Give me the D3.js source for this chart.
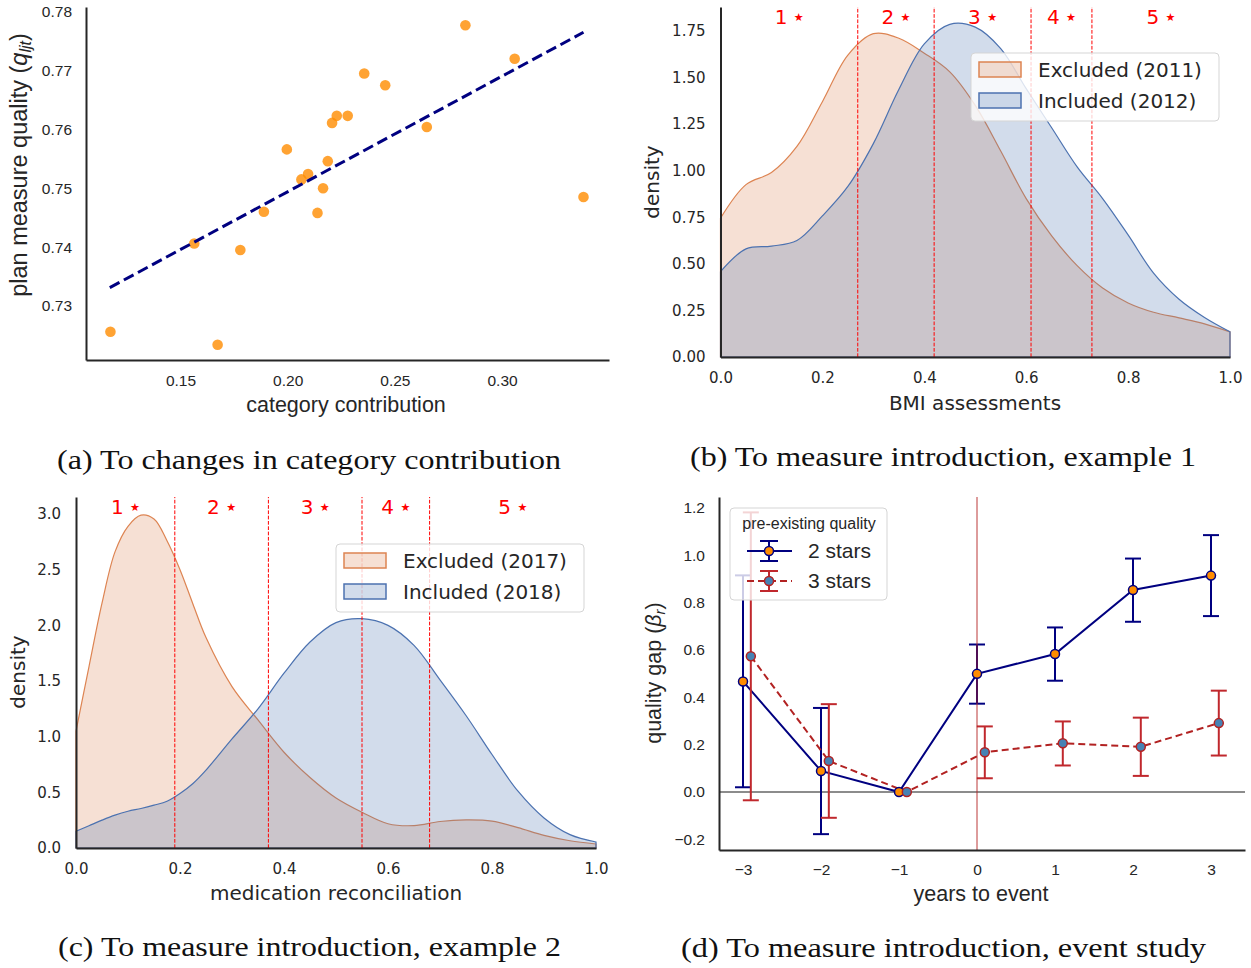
<!DOCTYPE html>
<html>
<head>
<meta charset="UTF-8">
<style>
body,html{
    margin:0;
    padding:0;
    overflow:hidden;
    background-color:#ffffff;
}
svg{display:block;}
</style>
</head>
<body>
<svg id="fig" width="1251" height="968"></svg>
<script src="https://d3js.org/d3.v7.min.js"></script>
<script>
// ---------- (a) category contribution scatter ----------
let contribX = [0.1173, 0.1673, 0.1564, 0.1779, 0.1889, 0.1996, 0.2064, 0.2095, 0.2139, 0.2165,
                0.2187, 0.2207, 0.2229, 0.2280, 0.2357, 0.2455, 0.2649, 0.2829, 0.3059, 0.3380];
let qualityY = [0.7256, 0.7234, 0.7406, 0.7395, 0.7460, 0.7566, 0.7515, 0.7524, 0.7458, 0.7500,
                0.7546, 0.7611, 0.7623, 0.7623, 0.7695, 0.7675, 0.7604, 0.7777, 0.7720, 0.7485];
let fitX = [0.117, 0.338];
let fitY = [0.7331, 0.7765];
let aXTicks = [0.15, 0.20, 0.25, 0.30];
let aYTicks = [0.73, 0.74, 0.75, 0.76, 0.77, 0.78];

// ---------- (b) BMI assessments ----------
let bmiGrid     = [0, 0.05, 0.10, 0.15, 0.20, 0.25, 0.30, 0.35, 0.40, 0.45, 0.50,
                   0.55, 0.60, 0.65, 0.70, 0.75, 0.80, 0.85, 0.90, 0.95, 1.0];
let bmiExcluded = [0.745, 0.925, 0.99, 1.13, 1.37, 1.62, 1.735, 1.71, 1.63, 1.53, 1.35,
                   1.105, 0.85, 0.65, 0.49, 0.37, 0.29, 0.24, 0.21, 0.178, 0.135];
let bmiIncluded = [0.458, 0.58, 0.595, 0.625, 0.757, 0.915, 1.145, 1.435, 1.68, 1.785, 1.77,
                   1.655, 1.44, 1.23, 1.02, 0.85, 0.655, 0.45, 0.31, 0.212, 0.135];
let bmiCuts = [0.2694, 0.4193, 0.6095, 0.729];
let bmiYTicks = [0, 0.25, 0.5, 0.75, 1.0, 1.25, 1.5, 1.75];

// ---------- (c) medication reconciliation ----------
let medGrid     = [0, 0.025, 0.05, 0.075, 0.1, 0.125, 0.15, 0.175, 0.2, 0.225, 0.25, 0.3, 0.35,
                   0.4, 0.45, 0.5, 0.55, 0.6, 0.65, 0.7, 0.75, 0.8, 0.85, 0.9, 0.95, 1.0];
let medExcluded = [1.05, 1.63, 2.2, 2.66, 2.89, 2.99, 2.955, 2.76, 2.5, 2.19, 1.89, 1.45, 1.15,
                   0.86, 0.633, 0.449, 0.321, 0.218, 0.201, 0.238, 0.252, 0.242, 0.183, 0.113, 0.065, 0.036];
let medIncluded = [0.15, 0.2, 0.25, 0.295, 0.33, 0.355, 0.385, 0.42, 0.49, 0.58, 0.7, 0.98, 1.25,
                   1.57, 1.85, 2.025, 2.06, 2.0, 1.82, 1.51, 1.19, 0.84, 0.51, 0.27, 0.12, 0.054];
let medCuts = [0.19, 0.37, 0.55, 0.68];
let medYTicks = [0, 0.5, 1.0, 1.5, 2.0, 2.5, 3.0];

let binLabels = ["1", "2", "3", "4", "5"];
let densXTicks = [0, 0.2, 0.4, 0.6, 0.8, 1.0];

// ---------- (d) event study ----------
let years = [-3, -2, -1, 0, 1, 2, 3];
let twoStarMean = [0.467, 0.089, 0.0, 0.499, 0.583, 0.853, 0.914];
let twoStarLow  = [0.020, -0.178, 0.0, 0.373, 0.470, 0.719, 0.743];
let twoStarHigh = [0.915, 0.355, 0.0, 0.623, 0.695, 0.986, 1.085];
let threeStarMean = [0.573, 0.131, 0.0, 0.168, 0.206, 0.191, 0.291];
let threeStarLow  = [-0.035, -0.109, 0.0, 0.058, 0.112, 0.068, 0.154];
let threeStarHigh = [1.181, 0.371, 0.0, 0.277, 0.298, 0.314, 0.428];
let dYTicks = [-0.2, 0, 0.2, 0.4, 0.6, 0.8, 1.0, 1.2];

let captions = [
    {text: "(a) To changes in category contribution", x: 57, y: 469, w: 504},
    {text: "(b) To measure introduction, example 1", x: 690, y: 466, w: 506},
    {text: "(c) To measure introduction, example 2", x: 58, y: 956, w: 503},
    {text: "(d) To measure introduction, event study", x: 681, y: 957, w: 525}
];

let svg = d3.select("#fig");
let sansA = "'Liberation Sans', Arial, sans-serif";
let dejavu = "'DejaVu Sans', sans-serif";
let orange = "#dd8452", blue = "#4c72b0";

function styleAxis(g, font, size) {
    g.select(".domain").attr("stroke", "#262626").attr("stroke-width", 2);
    g.selectAll(".tick line").remove();
    g.selectAll(".tick text")
        .attr("font-family", font)
        .attr("font-size", size)
        .attr("fill", "#262626");
}

// ================= panel (a) =================
{
    let x = d3.scaleLinear().domain([0.1059, 0.3499]).range([86, 609]);
    let y = d3.scaleLinear().domain([0.7208, 0.7808]).range([360, 7]);
    let g = svg.append("g");

    g.selectAll("circle")
        .data(contribX)
        .enter()
        .append("circle")
        .attr("cx", d => x(d))
        .attr("cy", (d, i) => y(qualityY[i]))
        .attr("r", 5.3)
        .attr("fill", "#ff8c00")
        .attr("fill-opacity", 0.8);

    g.append("line")
        .attr("x1", x(fitX[0])).attr("y1", y(fitY[0]))
        .attr("x2", x(fitX[1])).attr("y2", y(fitY[1]))
        .attr("stroke", "#000080")
        .attr("stroke-width", 3)
        .attr("stroke-dasharray", "11,5");

    let ax = g.append("g").attr("transform", "translate(0,360)")
        .call(d3.axisBottom(x).tickValues(aXTicks).tickFormat(d3.format(".2f")).tickSize(0).tickPadding(15).tickSizeOuter(0));
    styleAxis(ax, sansA, 15.5);
    let ay = g.append("g").attr("transform", "translate(86,0)")
        .call(d3.axisLeft(y).tickValues(aYTicks).tickFormat(d3.format(".2f")).tickSize(0).tickPadding(14).tickSizeOuter(0));
    styleAxis(ay, sansA, 15.5);

    g.append("text")
        .attr("x", 346).attr("y", 412)
        .attr("text-anchor", "middle")
        .attr("font-family", sansA).attr("font-size", 21.5).attr("fill", "#262626")
        .text("category contribution");

    let yl = g.append("text")
        .attr("transform", "translate(27,165) rotate(-90)")
        .attr("text-anchor", "middle")
        .attr("font-family", sansA).attr("font-size", 23.5).attr("fill", "#262626");
    yl.append("tspan").text("plan measure quality (");
    yl.append("tspan").attr("font-style", "italic").text("q");
    yl.append("tspan").attr("font-style", "italic").attr("font-size", 16).attr("dy", 4).text("ljt");
    yl.append("tspan").attr("dy", -4).text(")");
}

// ================= panels (b) and (c) =================
function densityPanel(opts) {
    let x = d3.scaleLinear().domain([0, 1]).range(opts.xRange);
    let y = d3.scaleLinear().domain([0, opts.yMax]).range(opts.yRange);
    let g = svg.append("g");

    let area = d3.area()
        .x(d => x(d[0]))
        .y0(y(0))
        .y1(d => y(d[1]))
        .curve(d3.curveCatmullRom.alpha(0.5));

    [[opts.excluded, orange], [opts.included, blue]].forEach(s => {
        let pts = opts.grid.map((v, i) => [v, s[0][i]]);
        g.append("path")
            .attr("d", area(pts))
            .attr("fill", s[1])
            .attr("fill-opacity", 0.25)
            .attr("stroke", s[1])
            .attr("stroke-width", 1.2);
    });

    // bin boundaries
    g.selectAll(".cut")
        .data(opts.cuts)
        .enter()
        .append("line")
        .attr("x1", d => x(d)).attr("x2", d => x(d))
        .attr("y1", opts.yRange[0]).attr("y2", opts.yRange[1])
        .attr("stroke", "#ff0000")
        .attr("stroke-width", 1)
        .attr("stroke-dasharray", "3.7,1.6");

    let edges = [0].concat(opts.cuts).concat([1]);
    binLabels.forEach((lab, i) => {
        let t = g.append("text")
            .attr("x", x((edges[i] + edges[i + 1]) / 2))
            .attr("y", opts.yRange[1] + 17)
            .attr("text-anchor", "middle")
            .attr("font-family", dejavu)
            .attr("fill", "#ff0000");
        t.append("tspan").attr("font-size", 20).text(lab + " ");
        t.append("tspan").attr("font-size", 11).attr("dy", -3).text("\u2605");
    });

    let ax = g.append("g").attr("transform", "translate(0," + opts.yRange[0] + ")")
        .call(d3.axisBottom(x).tickValues(densXTicks).tickFormat(d3.format(".1f")).tickSize(0).tickPadding(15).tickSizeOuter(0));
    styleAxis(ax, dejavu, 15);
    let ay = g.append("g").attr("transform", "translate(" + opts.xRange[0] + ",0)")
        .call(d3.axisLeft(y).tickValues(opts.yTicks).tickFormat(d3.format(opts.yFmt)).tickSize(0).tickPadding(15).tickSizeOuter(0));
    styleAxis(ay, dejavu, 15);

    g.append("text")
        .attr("x", opts.xLabelPos[0]).attr("y", opts.xLabelPos[1])
        .attr("text-anchor", "middle")
        .attr("font-family", dejavu).attr("font-size", 20).attr("fill", "#262626")
        .text(opts.xLabel);
    g.append("text")
        .attr("transform", "translate(" + opts.yLabelPos[0] + "," + opts.yLabelPos[1] + ") rotate(-90)")
        .attr("text-anchor", "middle")
        .attr("font-family", dejavu).attr("font-size", 20).attr("fill", "#262626")
        .text("density");

    // legend
    let lg = g.append("g").attr("transform", "translate(" + opts.legendPos[0] + "," + opts.legendPos[1] + ")");
    lg.append("rect")
        .attr("width", 248).attr("height", 68).attr("rx", 4)
        .attr("fill", "#ffffff").attr("fill-opacity", 0.8)
        .attr("stroke", "#d5d5d5").attr("stroke-width", 1);
    [[opts.legendText[0], orange], [opts.legendText[1], blue]].forEach((d, i) => {
        lg.append("rect")
            .attr("x", 8).attr("y", 9 + i * 31)
            .attr("width", 42).attr("height", 15)
            .attr("fill", d[1]).attr("fill-opacity", 0.25)
            .attr("stroke", d[1]).attr("stroke-width", 1.5);
        lg.append("text")
            .attr("x", 67).attr("y", 17 + i * 31)
            .attr("dy", "0.35em")
            .attr("font-family", dejavu).attr("font-size", 20).attr("fill", "#262626")
            .text(d[0]);
    });
}

densityPanel({
    xRange: [720.5, 1230], yRange: [357, 7], yMax: 1.878,
    grid: bmiGrid, excluded: bmiExcluded, included: bmiIncluded, cuts: bmiCuts,
    yTicks: bmiYTicks, yFmt: ".2f",
    xLabel: "BMI assessments", xLabelPos: [975, 410], yLabelPos: [659, 182],
    legendPos: [971, 53], legendText: ["Excluded (2011)", "Included (2012)"]
});

densityPanel({
    xRange: [76, 596], yRange: [848, 497], yMax: 3.153,
    grid: medGrid, excluded: medExcluded, included: medIncluded, cuts: medCuts,
    yTicks: medYTicks, yFmt: ".1f",
    xLabel: "medication reconciliation", xLabelPos: [336, 900], yLabelPos: [25, 672],
    legendPos: [336, 544], legendText: ["Excluded (2017)", "Included (2018)"]
});

// ================= panel (d) =================
{
    let x = d3.scaleLinear().domain([-3.308, 3.436]).range([719, 1245]);
    let y = d3.scaleLinear().domain([-0.245, 1.246]).range([850, 497]);
    let g = svg.append("g");

    let series = [
        {name: "2 stars", mean: twoStarMean, lo: twoStarLow, hi: twoStarHigh, off: 0,
         line: "#000080", fill: "#ff8c00", dash: null, bar: "#000080"},
        {name: "3 stars", mean: threeStarMean, lo: threeStarLow, hi: threeStarHigh, off: 0.1,
         line: "#b22222", fill: "#4682b4", dash: "7,4", bar: "#c0282d"}
    ];

    // zero line
    g.append("line")
        .attr("x1", 719).attr("x2", 1245)
        .attr("y1", y(0)).attr("y2", y(0))
        .attr("stroke", "#666666").attr("stroke-width", 1.5);

    series.forEach(s => {
        let bars = g.append("g");
        years.forEach((yr, i) => {
            if (s.hi[i] === s.lo[i]) return;
            let cx = x(yr + s.off);
            bars.append("line")
                .attr("x1", cx).attr("x2", cx)
                .attr("y1", y(s.lo[i])).attr("y2", y(s.hi[i]))
                .attr("stroke", s.bar).attr("stroke-width", 2);
            [s.lo[i], s.hi[i]].forEach(v => {
                bars.append("line")
                    .attr("x1", cx - 8).attr("x2", cx + 8)
                    .attr("y1", y(v)).attr("y2", y(v))
                    .attr("stroke", s.bar).attr("stroke-width", 2);
            });
        });
        let line = d3.line().x((d, i) => x(years[i] + s.off)).y(d => y(d));
        g.append("path")
            .attr("d", line(s.mean))
            .attr("fill", "none")
            .attr("stroke", s.line).attr("stroke-width", 2)
            .attr("stroke-dasharray", s.dash);
    });

    // event line
    g.append("line")
        .attr("x1", x(0)).attr("x2", x(0))
        .attr("y1", 497).attr("y2", 850)
        .attr("stroke", "#b22222").attr("stroke-opacity", 0.6).attr("stroke-width", 1.5);

    series.forEach(s => {
        g.selectAll(null)
            .data(s.mean)
            .enter()
            .append("circle")
            .attr("cx", (d, i) => x(years[i] + s.off))
            .attr("cy", d => y(d))
            .attr("r", 4.5)
            .attr("fill", s.fill)
            .attr("stroke", s.line).attr("stroke-width", 1.5);
    });

    let ax = g.append("g").attr("transform", "translate(0,850)")
        .call(d3.axisBottom(x).tickValues(years).tickFormat(d3.format("d")).tickSize(0).tickPadding(14).tickSizeOuter(0));
    styleAxis(ax, sansA, 15.5);
    let ay = g.append("g").attr("transform", "translate(719,0)")
        .call(d3.axisLeft(y).tickValues(dYTicks).tickFormat(d3.format(".1f")).tickSize(0).tickPadding(14).tickSizeOuter(0));
    styleAxis(ay, sansA, 15.5);

    g.append("text")
        .attr("x", 981).attr("y", 901)
        .attr("text-anchor", "middle")
        .attr("font-family", sansA).attr("font-size", 21.5).attr("fill", "#262626")
        .text("years to event");
    let yl = g.append("text")
        .attr("transform", "translate(661,673) rotate(-90)")
        .attr("text-anchor", "middle")
        .attr("font-family", sansA).attr("font-size", 21.5).attr("fill", "#262626");
    yl.append("tspan").text("quality gap (");
    yl.append("tspan").attr("font-style", "italic").text("\u03b2");
    yl.append("tspan").attr("font-style", "italic").attr("font-size", 15).attr("dy", 4).text("r");
    yl.append("tspan").attr("dy", -4).text(")");

    // legend
    let lg = g.append("g").attr("transform", "translate(730,508)");
    lg.append("rect")
        .attr("width", 157).attr("height", 92).attr("rx", 4)
        .attr("fill", "#ffffff").attr("fill-opacity", 0.8)
        .attr("stroke", "#d5d5d5").attr("stroke-width", 1);
    lg.append("text")
        .attr("x", 79).attr("y", 15).attr("dy", "0.35em")
        .attr("text-anchor", "middle")
        .attr("font-family", sansA).attr("font-size", 16).attr("fill", "#262626")
        .text("pre-existing quality");
    series.forEach((s, i) => {
        let cy = 43 + i * 30;
        lg.append("line")
            .attr("x1", 17).attr("x2", 62).attr("y1", cy).attr("y2", cy)
            .attr("stroke", s.line).attr("stroke-width", 2)
            .attr("stroke-dasharray", s.dash);
        lg.append("line")
            .attr("x1", 39).attr("x2", 39).attr("y1", cy - 10).attr("y2", cy + 10)
            .attr("stroke", s.bar).attr("stroke-width", 2);
        [cy - 10, cy + 10].forEach(v => {
            lg.append("line")
                .attr("x1", 30).attr("x2", 48).attr("y1", v).attr("y2", v)
                .attr("stroke", s.bar).attr("stroke-width", 2);
        });
        lg.append("circle")
            .attr("cx", 39).attr("cy", cy).attr("r", 4.5)
            .attr("fill", s.fill)
            .attr("stroke", s.line).attr("stroke-width", 1.5);
        lg.append("text")
            .attr("x", 78).attr("y", cy).attr("dy", "0.35em")
            .attr("font-family", sansA).attr("font-size", 21).attr("fill", "#262626")
            .text(s.name);
    });
}

// ================= captions =================
svg.selectAll(".caption")
    .data(captions)
    .enter()
    .append("text")
    .attr("class", "caption")
    .attr("x", d => d.x)
    .attr("y", d => d.y)
    .attr("textLength", d => d.w)
    .attr("lengthAdjust", "spacingAndGlyphs")
    .attr("font-family", "'Liberation Serif', 'Times New Roman', serif")
    .attr("font-size", 26.5)
    .attr("fill", "#111")
    .text(d => d.text);
</script>
</body>
</html>
